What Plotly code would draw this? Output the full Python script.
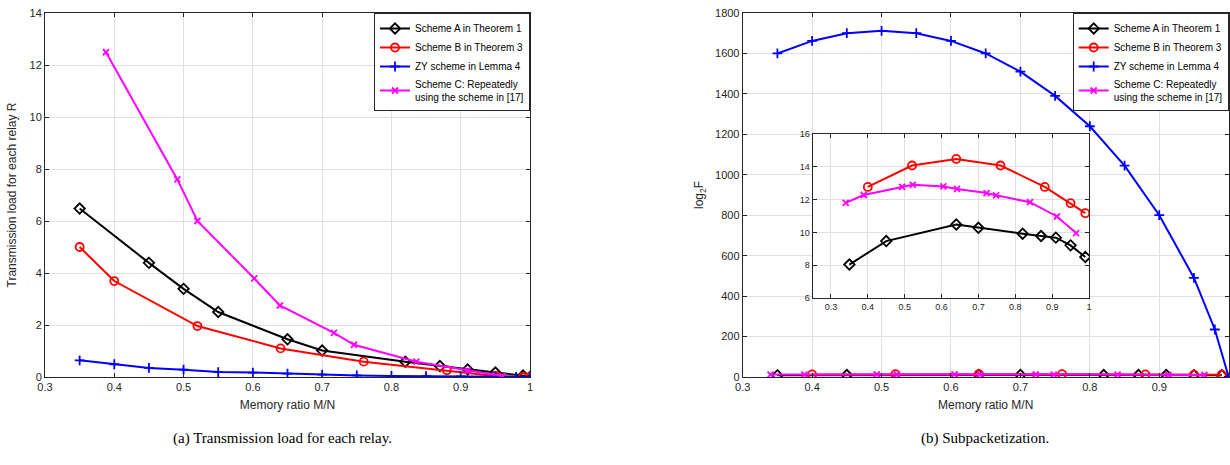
import plotly.graph_objects as go

# ---------------- data: (a) transmission load ----------------
a_x = [0.35, 0.45, 0.50, 0.55, 0.65, 0.70, 0.82, 0.87, 0.91, 0.95, 0.99, 1.00]
a_R = [6.48, 4.39, 3.39, 2.50, 1.45, 1.02, 0.59, 0.42, 0.29, 0.17, 0.06, 0.0]

b_x = [0.35, 0.40, 0.52, 0.64, 0.76, 0.88, 0.95, 0.99, 1.00]
b_R = [5.0, 3.69, 1.96, 1.10, 0.59, 0.26, 0.04, 0.0, 0.0]

zy_x = [0.35, 0.40, 0.45, 0.50, 0.55, 0.60, 0.65, 0.70, 0.75, 0.80, 0.85, 0.90, 0.95, 0.98, 1.00]
zy_R = [0.64, 0.49, 0.35, 0.28, 0.19, 0.17, 0.13, 0.09, 0.06, 0.04, 0.03, 0.02, 0.01, 0.0, 0.0]

c_x = [0.388, 0.491, 0.52, 0.602, 0.639, 0.717, 0.746, 0.836, 0.91, 0.96]
c_R = [12.49, 7.6, 6.0, 3.79, 2.75, 1.70, 1.24, 0.59, 0.26, 0.04]

# ---------------- data: (b) subpacketization log2 F ----------------
a_fx = [0.35, 0.45, 0.64, 0.70, 0.82, 0.87, 0.91, 0.95, 0.99]
a_F = [8.04, 9.47, 10.48, 10.28, 9.92, 9.78, 9.68, 9.21, 8.5]

b_fx = [0.40, 0.52, 0.64, 0.76, 0.88, 0.95, 0.99]
b_F = [12.77, 14.08, 14.48, 14.08, 12.77, 11.78, 11.17]

zy_fx = [0.35, 0.40, 0.45, 0.50, 0.55, 0.60, 0.65, 0.70, 0.75, 0.80, 0.85, 0.90, 0.95, 0.98, 1.00]
zy_F = [1600, 1662, 1700, 1712, 1700, 1662, 1600, 1510, 1390, 1240, 1045, 800, 490, 235, 0]

c_fx = [0.34, 0.389, 0.493, 0.522, 0.605, 0.642, 0.722, 0.748, 0.84, 0.913, 0.965]
c_F = [11.8, 12.28, 12.77, 12.9, 12.8, 12.65, 12.4, 12.26, 11.84, 10.97, 9.96]

names = ["Scheme A in Theorem 1", "Scheme B in Theorem 3", "ZY scheme in Lemma 4",
         "Scheme C: Repeatedly<br>using the scheme in [17]"]

x_ticks = [0.3, 0.4, 0.5, 0.6, 0.7, 0.8, 0.9, 1.0]
x_ticktext = ["0.3", "0.4", "0.5", "0.6", "0.7", "0.8", "0.9", "1"]
r_ticks = [0, 2, 4, 6, 8, 10, 12, 14]
f_ticks = [0, 200, 400, 600, 800, 1000, 1200, 1400, 1600, 1800]
inset_yticks = [6, 8, 10, 12, 14, 16]

W, H = 1230, 465
AX = "#262626"
GRID = "#dfdfdf"
FONT = "Liberation Sans, Arial, sans-serif"

styles = [
    dict(color="black", symbol="diamond-open", size=8),
    dict(color="#ff0000", symbol="circle-open", size=8),
    dict(color="#0000ff", symbol="cross-thin-open", size=7),
    dict(color="#ff00ff", symbol="x-thin-open", size=6),
]

fig = go.Figure()


def add(x, y, k, xa, ya, legend="legend", show=False):
    s = styles[k]
    fig.add_trace(go.Scatter(
        x=x, y=y, mode="lines+markers", name=names[k],
        line=dict(color=s["color"], width=2),
        marker=dict(symbol=s["symbol"], size=s["size"], color=s["color"],
                    line=dict(color=s["color"], width=1.8)),
        xaxis=xa, yaxis=ya, showlegend=show, legend=legend))


# left
add(a_x, a_R, 0, "x", "y", "legend", True)
add(b_x, b_R, 1, "x", "y", "legend", True)
add(zy_x, zy_R, 2, "x", "y", "legend", True)
add(c_x, c_R, 3, "x", "y", "legend", True)
# right main
add(a_fx, a_F, 0, "x2", "y2", "legend2", True)
add(b_fx, b_F, 1, "x2", "y2", "legend2", True)
add(zy_fx, zy_F, 2, "x2", "y2", "legend2", True)
add(c_fx, c_F, 3, "x2", "y2", "legend2", True)
# inset
add(a_fx, a_F, 0, "x3", "y3")
add(b_fx, b_F, 1, "x3", "y3")
add(c_fx, c_F, 3, "x3", "y3")


def ax(domain, rng, tickvals, ticktext=None, anchor=None, size=11, title=None, standoff=6):
    d = dict(domain=domain, range=rng, tickvals=tickvals, showline=True, mirror="ticks",
             linecolor=AX, linewidth=1, ticks="inside", ticklen=4, tickcolor=AX,
             showgrid=True, gridcolor=GRID, gridwidth=1, zeroline=False, automargin=False,
             tickfont=dict(family=FONT, size=size, color=AX), anchor=anchor)
    if ticktext is not None:
        d["ticktext"] = ticktext
    if title is not None:
        d["title"] = dict(text=title, font=dict(family=FONT, size=12, color=AX), standoff=standoff)
    return d


L0, L1 = 45 / W, 530 / W
R0, R1 = 742.7 / W, 1228.7 / W
YB, YT = 1 - 377 / H, 1 - 13 / H
I0, I1 = 812.5 / W, 1089 / W
IB, IT = 1 - 298 / H, 1 - 134 / H

leg_common = dict(y=YT, xanchor="right", yanchor="top", xref="paper", yref="paper",
                  bgcolor="white", bordercolor=AX, borderwidth=1,
                  font=dict(family=FONT, size=10, color="black"), tracegroupgap=0,
                  itemwidth=30)

fig.update_layout(
    template="none",
    width=W, height=H, margin=dict(l=0, r=0, t=0, b=0, autoexpand=False),
    paper_bgcolor="white", plot_bgcolor="white",
    font=dict(family=FONT, color=AX),
    xaxis=ax([L0, L1], [0.3, 1.0], x_ticks, x_ticktext, "y", title="Memory ratio M/N", standoff=8),
    yaxis=ax([YB, YT], [0, 14], r_ticks, None, "x", title="Transmission load for each relay R",
             standoff=10),
    xaxis2=ax([R0, R1], [0.3, 1.0], x_ticks, x_ticktext, "y2", title="Memory ratio M/N", standoff=8),
    yaxis2=ax([YB, YT], [0, 1800], f_ticks, None, "x2", title="log<sub>2</sub>F", standoff=8),
    xaxis3=ax([I0, I1], [0.25, 1.0], x_ticks, x_ticktext, "y3", size=9),
    yaxis3=ax([IB, IT], [6, 16], inset_yticks, None, "x3", size=9),
    legend=dict(x=L1, **leg_common),
    legend2=dict(x=R1, **leg_common),
    annotations=[
        dict(text="(a) Transmission load for each relay.", x=(L0 + L1) / 2 - 0.004, y=1 - 438 / H,
             xref="paper", yref="paper", showarrow=False, xanchor="center", yanchor="middle",
             font=dict(family="Liberation Serif, Times New Roman, serif", size=15, color="black")),
        dict(text="(b) Subpacketization.", x=985 / W, y=1 - 438 / H,
             xref="paper", yref="paper", showarrow=False, xanchor="center", yanchor="middle",
             font=dict(family="Liberation Serif, Times New Roman, serif", size=15, color="black")),
    ],
)

fig.write_html("out.html", config={"displayModeBar": False},
               post_script="document.body.style.margin='0';")
